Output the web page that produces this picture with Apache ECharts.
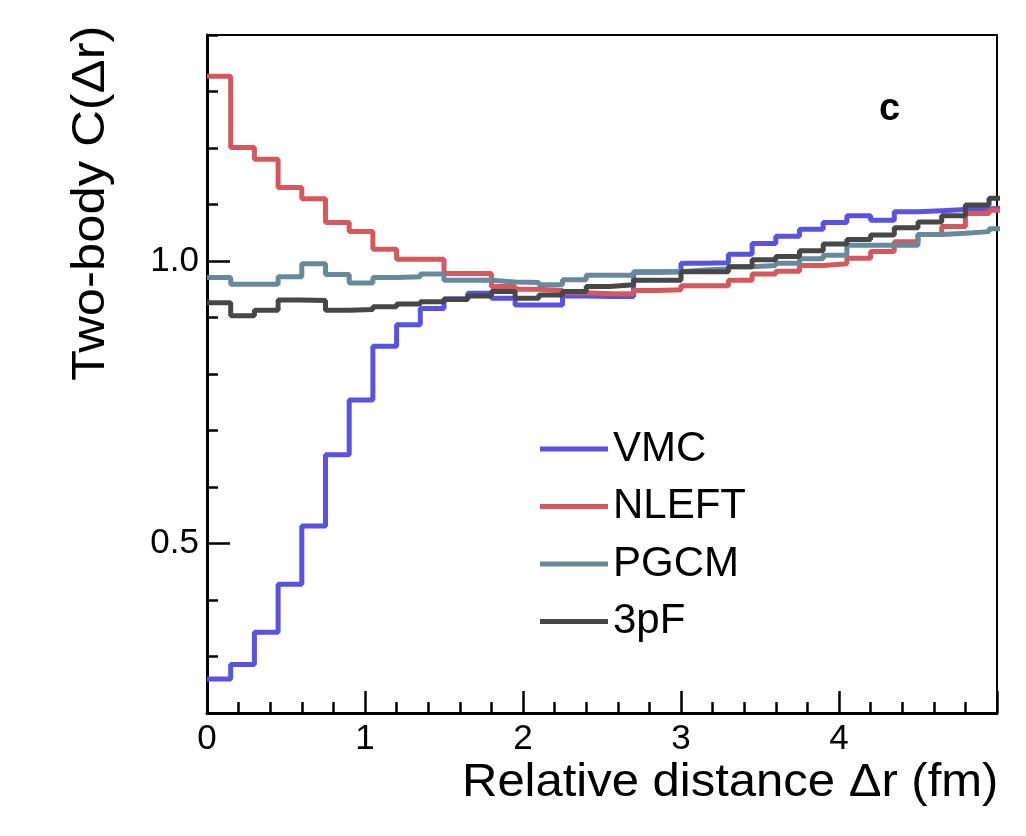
<!DOCTYPE html>
<html>
<head>
<meta charset="utf-8">
<script src="https://cdn.jsdelivr.net/npm/echarts@6/dist/echarts.min.js"></script>
<style>
html,body{margin:0;padding:0;background:#fff;}
#chart{width:1026px;height:836px;}
</style>
</head>
<body>
<div id="chart"></div>
<script>
// Histogram bin width (fm); bins start at 0
var BIN_WIDTH = 0.15;
var seriesNames = ['VMC', 'NLEFT', 'PGCM', '3pF'];
var vmc = [0.260, 0.286, 0.343, 0.428, 0.531, 0.657, 0.754, 0.849, 0.887, 0.916, 0.933, 0.943, 0.934, 0.922, 0.922, 0.938, 0.937, 0.937, 0.980, 0.981, 0.996, 0.997, 1.012, 1.031, 1.044, 1.056, 1.068, 1.080, 1.072, 1.087, 1.089, 1.091, 1.092, 1.095];
var nleft = [1.327, 1.201, 1.180, 1.130, 1.110, 1.068, 1.052, 1.021, 1.003, 1.003, 0.978, 0.978, 0.955, 0.950, 0.948, 0.944, 0.942, 0.942, 0.948, 0.949, 0.956, 0.956, 0.966, 0.977, 0.982, 0.992, 0.995, 1.005, 1.017, 1.034, 1.047, 1.061, 1.084, 1.090];
var pgcm = [0.971, 0.959, 0.959, 0.972, 0.995, 0.976, 0.961, 0.971, 0.972, 0.977, 0.966, 0.966, 0.963, 0.962, 0.958, 0.967, 0.975, 0.975, 0.981, 0.981, 0.984, 0.986, 0.990, 0.992, 0.996, 1.004, 1.010, 1.028, 1.028, 1.028, 1.047, 1.049, 1.052, 1.057];
var tpf = [0.926, 0.903, 0.913, 0.931, 0.930, 0.913, 0.914, 0.919, 0.924, 0.928, 0.932, 0.938, 0.946, 0.934, 0.940, 0.946, 0.955, 0.958, 0.966, 0.966, 0.981, 0.981, 0.990, 1.002, 1.008, 1.018, 1.030, 1.038, 1.046, 1.059, 1.069, 1.080, 1.099, 1.111];
var xTicks = [0, 1, 2, 3, 4];
// y-axis tick positions (minor, every 0.1) and the labelled major ones
var yTickLabels = ['0.2', '0.3', '0.4', '0.5', '0.6', '0.7', '0.8', '0.9', '1.0', '1.1', '1.2', '1.3', '1.4'];
var yMajorLabels = ['0.5', '1.0'];
var colors = ['#5a52e0', '#d6575c', '#67899c', '#474747'];

function toSteps(vals) {
  var pts = vals.map(function (v, i) { return [i * BIN_WIDTH, v]; });
  pts.push([vals.length * BIN_WIDTH, vals[vals.length - 1]]);
  return pts;
}
var allVals = [vmc, nleft, pgcm, tpf];
var FONT = '"Liberation Sans", Arial, Helvetica, sans-serif';

var chart = echarts.init(document.getElementById('chart'));
chart.setOption({
  animation: false,
  backgroundColor: '#fff',
  grid: { left: 207, right: 29, top: 35, bottom: 123, show: true, borderColor: '#000', borderWidth: 2, backgroundColor: 'transparent' },
  xAxis: {
    type: 'value', min: 0, max: 5, interval: 1,
    axisLine: { lineStyle: { color: '#000', width: 3 } },
    axisTick: { inside: true, length: 22, lineStyle: { color: '#000', width: 2.5 } },
    minorTick: { show: true, splitNumber: 5, length: 11, lineStyle: { color: '#000', width: 2.5 } },
    splitLine: { show: false },
    axisLabel: {
      fontFamily: FONT, fontSize: 35, color: '#000', margin: 9,
      formatter: function (v) { return xTicks.indexOf(v) >= 0 ? String(v) : ''; }
    }
  },
  yAxis: [{
    type: 'value', min: 0.2, max: 1.4, interval: 0.1, position: 'left',
    axisLine: { lineStyle: { color: '#000', width: 3 } },
    axisTick: { show: true, inside: true, length: 11, lineStyle: { color: '#000', width: 2.5 } },
    splitLine: { show: false },
    axisLabel: {
      fontFamily: FONT, fontSize: 35, color: '#000', margin: 8,
      formatter: function (v) {
        var s = v.toFixed(1);
        return yMajorLabels.indexOf(s) >= 0 ? s : '';
      }
    }
  }, {
    type: 'category', data: yTickLabels, boundaryGap: false, position: 'left',
    axisLine: { show: false },
    axisTick: {
      show: true, inside: true, length: 23, lineStyle: { color: '#000', width: 2.5 },
      interval: function (idx, val) { return yMajorLabels.indexOf(val) >= 0; }
    },
    splitLine: { show: false },
    axisLabel: { show: false }
  }],
  legend: {
    orient: 'vertical', left: 535, top: 423,
    itemWidth: 68, itemHeight: 5, itemGap: 15.5,
    icon: 'rect',
    textStyle: { fontFamily: FONT, fontSize: 42, color: '#000', lineHeight: 41 },
    data: seriesNames
  },
  series: seriesNames.map(function (name, k) {
    return {
      name: name, type: 'line', step: 'end', showSymbol: false, symbol: 'none',
      data: toSteps(allVals[k]),
      lineStyle: { color: colors[k], width: 5 },
      itemStyle: { color: colors[k] },
      clip: true
    };
  }),
  graphic: [
    { type: 'text', x: 462, y: 760, scaleX: 1.065, style: { text: 'Relative distance Δr (fm)', font: '46px ' + FONT, fill: '#000' } },
    { type: 'text', rotation: Math.PI / 2, x: 68, y: 381, scaleX: 1.08, style: { text: 'Two-body C(Δr)', font: '47px ' + FONT, fill: '#000', textVerticalAlign: 'top' } },
    { type: 'text', x: 879, y: 91, style: { text: 'c', font: 'bold 38px ' + FONT, fill: '#000' } }
  ]
});
</script>
</body>
</html>
